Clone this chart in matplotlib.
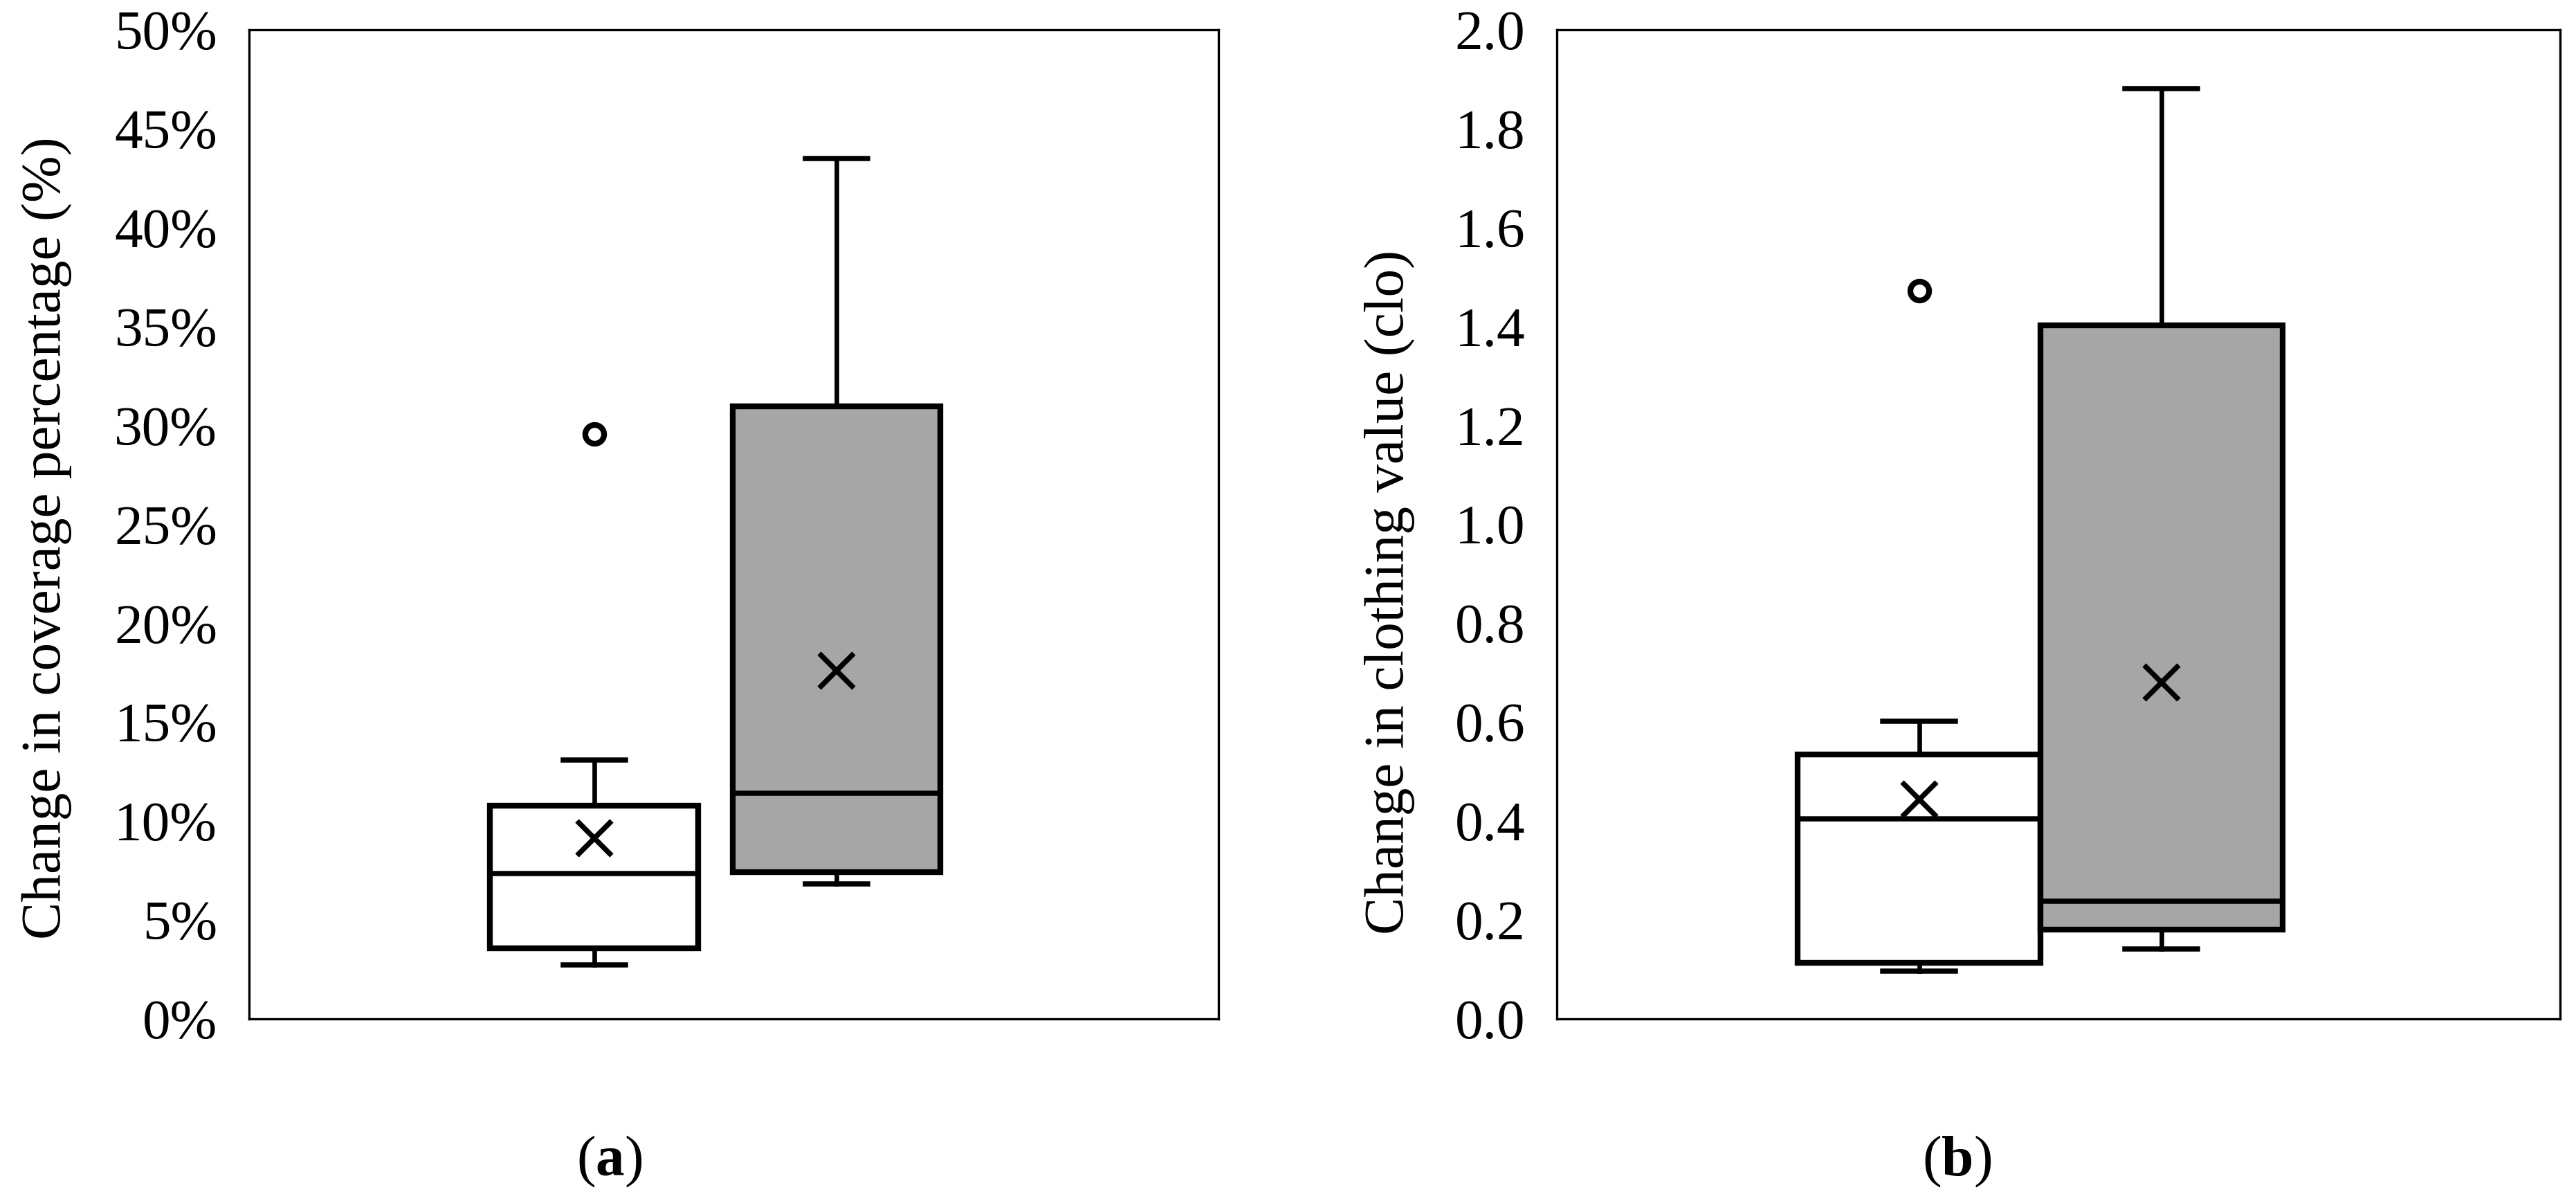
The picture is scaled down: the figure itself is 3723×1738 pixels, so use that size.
import matplotlib
matplotlib.use("Agg")
import matplotlib.pyplot as plt
from matplotlib.ticker import FuncFormatter

plt.rcParams['font.family'] = ['Liberation Serif', 'DejaVu Serif']
plt.rcParams['mathtext.fontset'] = 'custom'
plt.rcParams['mathtext.rm'] = 'Liberation Serif'
plt.rcParams['mathtext.bf'] = 'Liberation Serif:bold'

# panel (a): change in coverage percentage (%)
a_whislo = [2.74, 6.82]
a_q1 = [3.57, 7.43]
a_med = [7.35, 11.4]
a_mean = [9.13, 17.6]
a_q3 = [10.77, 30.97]
a_whishi = [13.1, 43.5]
a_fliers = [[29.56], []]

# panel (b): change in clothing value (clo)
b_whislo = [0.096, 0.142]
b_q1 = [0.114, 0.181]
b_med = [0.404, 0.238]
b_mean = [0.444, 0.680]
b_q3 = [0.535, 1.402]
b_whishi = [0.602, 1.881]
b_fliers = [[1.472], []]

box_colors = ['white', '#a6a6a6']


def make_stats(whislo, q1, med, mean, q3, whishi, fliers):
    stats = []
    for i in range(len(med)):
        stats.append(dict(whislo=whislo[i], q1=q1[i], med=med[i], mean=mean[i],
                          q3=q3[i], whishi=whishi[i], fliers=fliers[i]))
    return stats


def draw(ax, stats, width, xlim):
    bp = ax.bxp(stats, positions=[1, 2], widths=width, capwidths=0.3 * width,
                showmeans=True, patch_artist=True,
                boxprops=dict(linewidth=2.0, edgecolor='black'),
                medianprops=dict(color='black', linewidth=1.8),
                whiskerprops=dict(color='black', linewidth=1.6),
                capprops=dict(color='black', linewidth=1.8),
                meanprops=dict(marker='x', markersize=12, markeredgecolor='black',
                               markeredgewidth=1.8),
                flierprops=dict(marker='o', markersize=6.5, markerfacecolor='white',
                                markeredgecolor='black', markeredgewidth=2.0))
    for patch, c in zip(bp['boxes'], box_colors):
        patch.set_facecolor(c)
    ax.set_xlim(*xlim)
    ax.set_xticks([])
    ax.tick_params(axis='y', length=0, pad=11, labelsize=19.5)
    for s in ax.spines.values():
        s.set_linewidth(0.8)


fig = plt.figure(figsize=(3723 / 300, 1738 / 300), dpi=300)
H = 1738.0
W = 3723.0
axa = fig.add_axes([360 / W, 1 - 1472 / H, 1401 / W, 1429 / H])
axb = fig.add_axes([2250 / W, 1 - 1472 / H, 1450 / W, 1429 / H])

draw(axa, make_stats(a_whislo, a_q1, a_med, a_mean, a_q3, a_whishi, a_fliers),
     0.858, (-0.4236, 3.5764))
axa.set_ylim(0, 50)
axa.set_yticks(range(0, 51, 5))
axa.yaxis.set_major_formatter(FuncFormatter(lambda v, p: '%d%%' % v))

draw(axb, make_stats(b_whislo, b_q1, b_med, b_mean, b_q3, b_whishi, b_fliers),
     1.0, (-0.495, 3.645))
axb.set_ylim(0, 2.0)
axb.set_yticks([i * 0.2 for i in range(11)])
axb.yaxis.set_major_formatter(FuncFormatter(lambda v, p: '%.1f' % v))

fig.text(68 / W, 1 - 777 / H, 'Change in coverage percentage (%)', rotation=90,
         ha='center', va='center', fontsize=19.5)
fig.text(2008 / W, 1 - 855 / H, 'Change in clothing value (clo)', rotation=90,
         ha='center', va='center', fontsize=19.5)

fig.text(881 / W, 1 - 1678 / H, r'($\mathbf{a}$)', ha='center', va='center', fontsize=20)
fig.text(2828 / W, 1 - 1678 / H, r'($\mathbf{b}$)', ha='center', va='center', fontsize=20)

fig.savefig('out.png', dpi=300)
